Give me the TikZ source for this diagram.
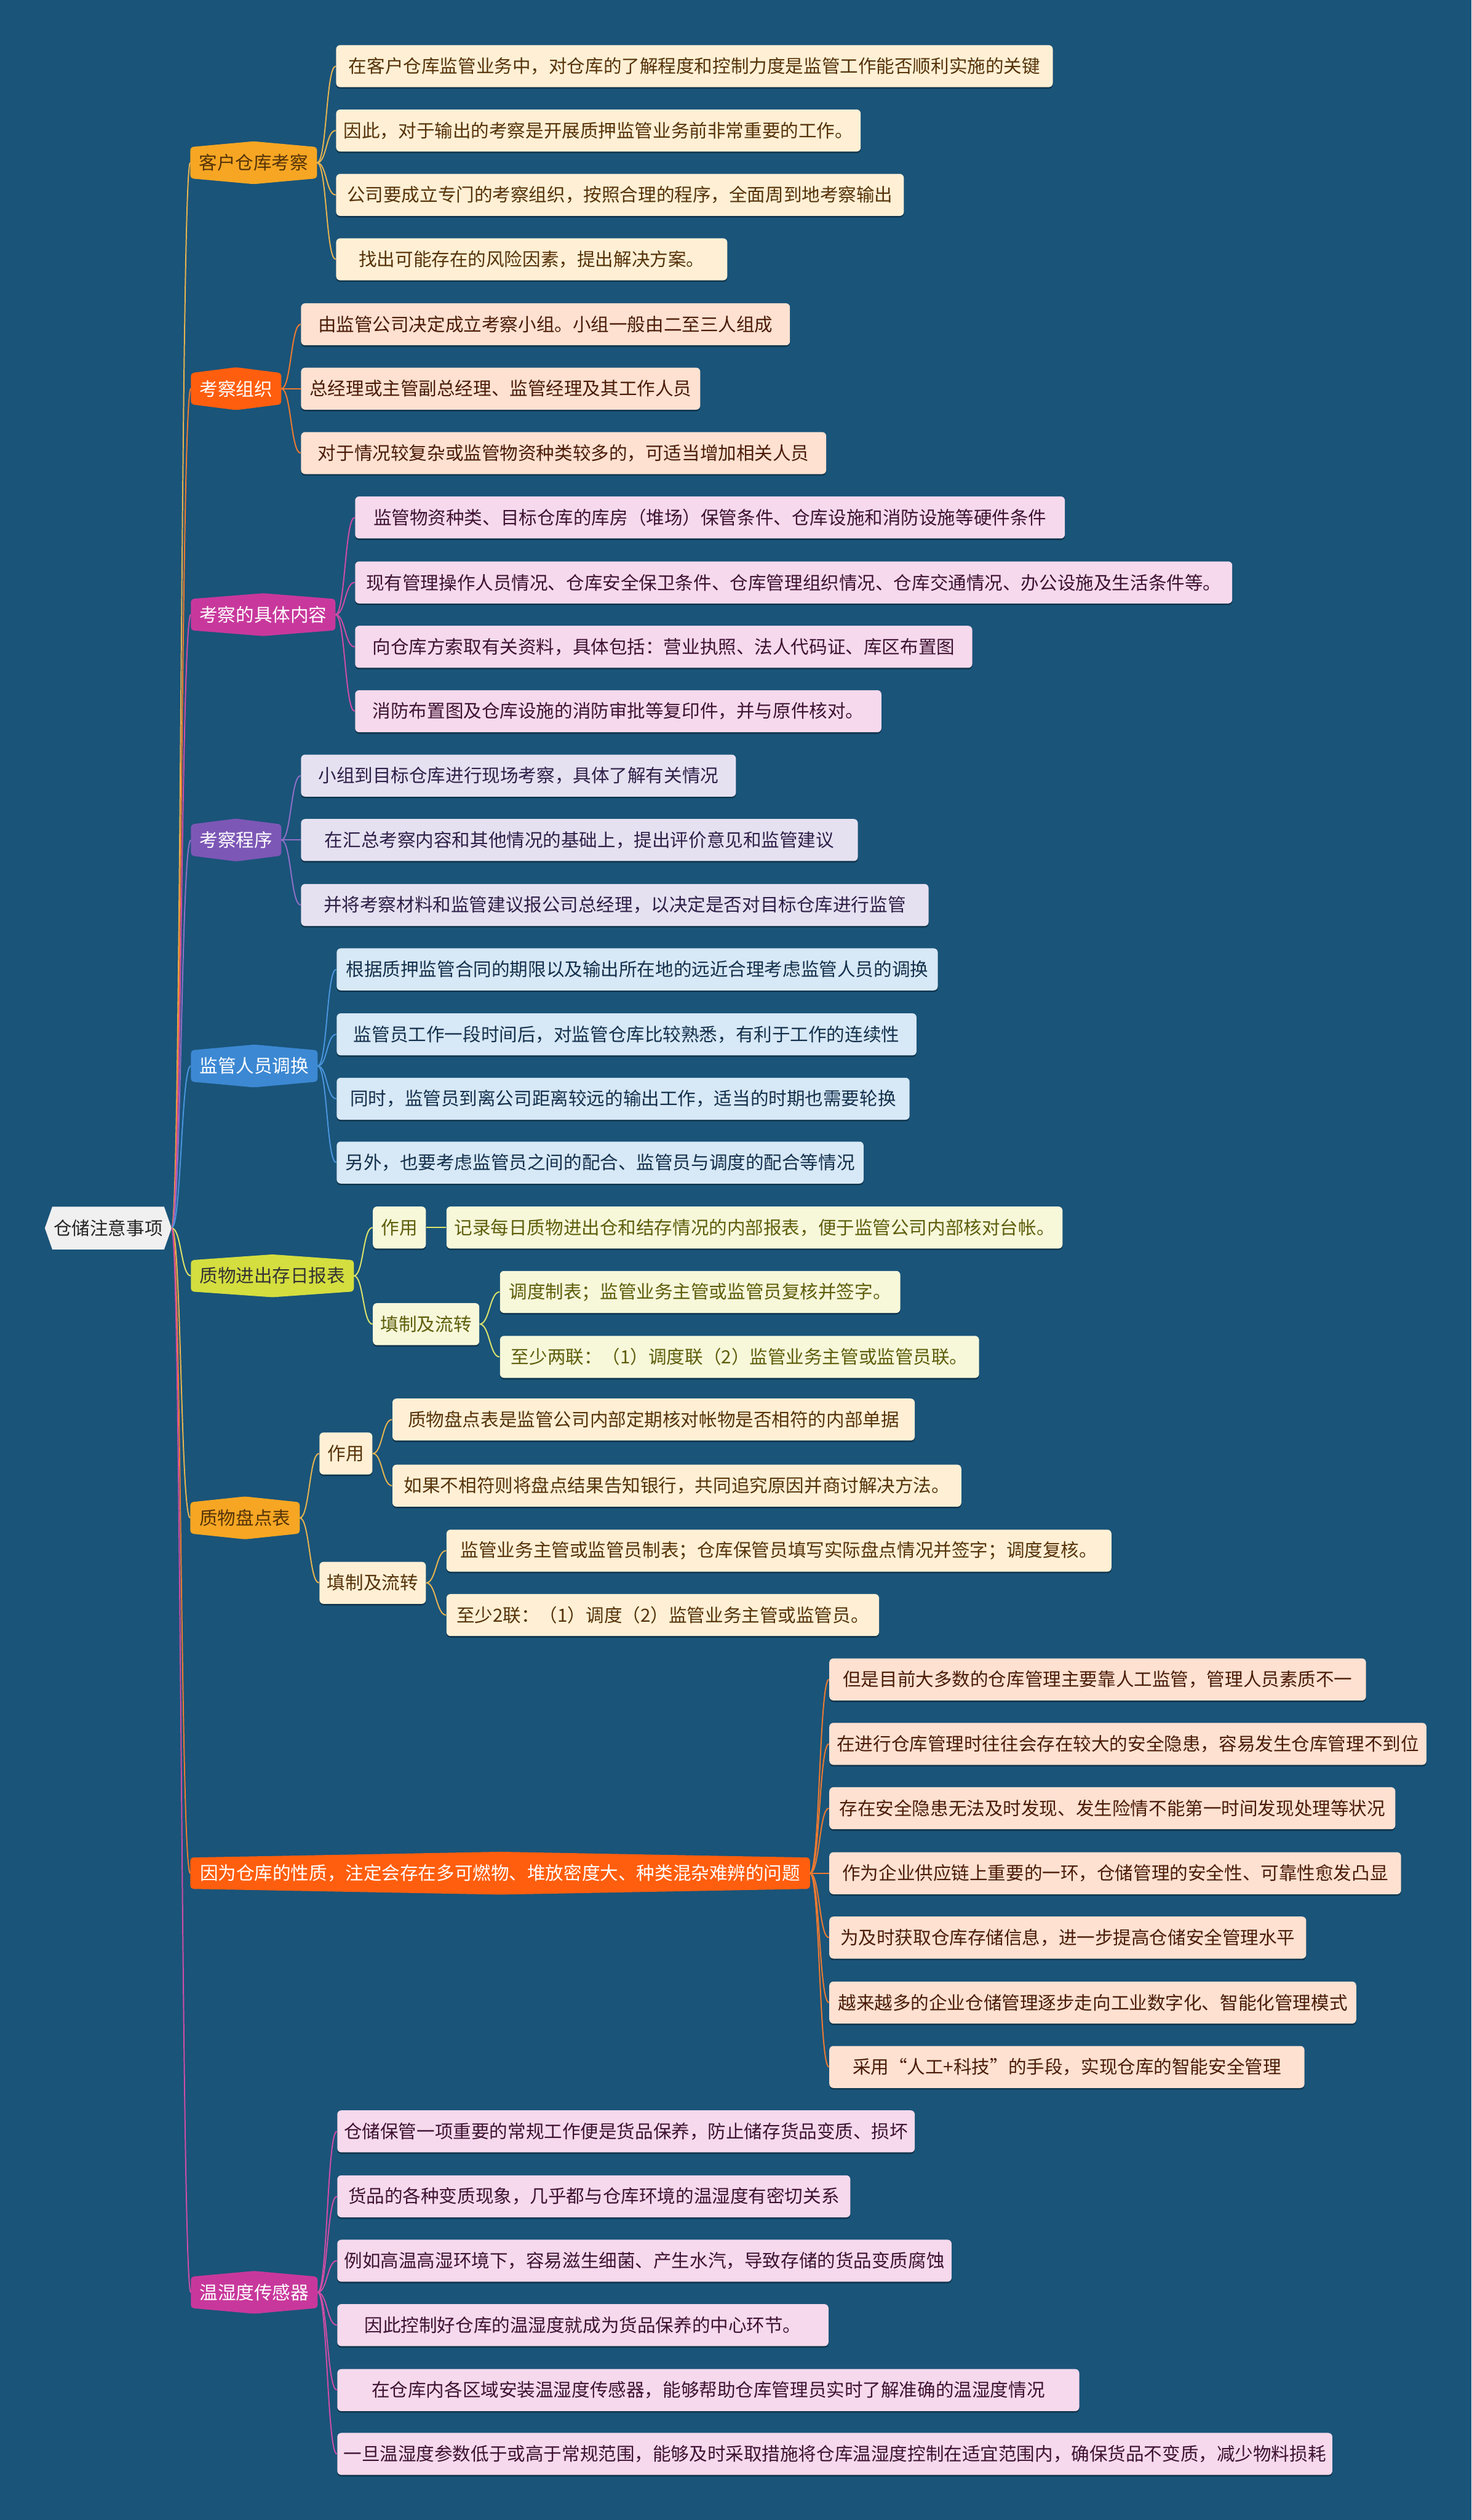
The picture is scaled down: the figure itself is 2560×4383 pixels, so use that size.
\documentclass[tikz,border=0pt]{standalone}
\usepackage{fontspec}
\setmainfont{Noto Sans CJK SC}
\usetikzlibrary{shadows}

\definecolor{canvasbg}{HTML}{1A5479}
\definecolor{rootfill}{HTML}{F0F0F0}
\definecolor{rootink}{HTML}{262626}
\definecolor{amberhex}{HTML}{F6A623}
\definecolor{amberleaf}{HTML}{FFF0D5}
\definecolor{amberink}{HTML}{553309}
\definecolor{amberline}{HTML}{E6B450}
\definecolor{flamehex}{HTML}{FF5E0E}
\definecolor{flameleaf}{HTML}{FFE1D1}
\definecolor{flameink}{HTML}{4A1C08}
\definecolor{flameline}{HTML}{EE7A30}
\definecolor{rosehex}{HTML}{C8389C}
\definecolor{roseleaf}{HTML}{F6D9EC}
\definecolor{roseink}{HTML}{3E1232}
\definecolor{roseline}{HTML}{CF4DA6}
\definecolor{violethex}{HTML}{7D57B6}
\definecolor{violetleaf}{HTML}{E6E1F1}
\definecolor{violetink}{HTML}{2E2048}
\definecolor{violetline}{HTML}{8F6FC8}
\definecolor{azurehex}{HTML}{3C88D3}
\definecolor{azureleaf}{HTML}{D7E8F6}
\definecolor{azureink}{HTML}{13304C}
\definecolor{azureline}{HTML}{4A95DC}
\definecolor{limehex}{HTML}{D4DE3F}
\definecolor{limeleaf}{HTML}{F7F8DA}
\definecolor{limeink}{HTML}{5E5E0C}
\definecolor{limeline}{HTML}{DCE36A}

\pgfdeclarelayer{canvas}
\pgfdeclarelayer{hexes}
\pgfsetlayers{canvas,hexes,main}

\tikzset{
  card/.style={fill=#1, rounded corners=2pt, anchor=west, minimum height=0.73cm,
    inner xsep=0.08cm, inner ysep=0pt,
    drop shadow={shadow xshift=0pt, shadow yshift=-0.8pt, opacity=0.35, fill=black}},
  amcard/.style={card=amberleaf, text=amberink},
  flcard/.style={card=flameleaf, text=flameink},
  rocard/.style={card=roseleaf, text=roseink},
  vicard/.style={card=violetleaf, text=violetink},
  azcard/.style={card=azureleaf, text=azureink},
  licard/.style={card=limeleaf, text=limeink},
  hexnode/.style={anchor=west, minimum height=0.73cm, inner xsep=0.08cm, inner ysep=0pt, text=#1},
  link/.style={draw=#1, line width=0.6pt,
    to path={.. controls +(0.17cm,0) and +(-0.17cm,0) .. (\tikztotarget)}}
}

\begin{document}
\begin{tikzpicture}[x=0.01cm, y=-0.01cm, font=\fontsize{9pt}{11pt}\selectfont]
  \useasboundingbox (0,0) rectangle (2560,4383);
  \begin{pgfonlayer}{canvas}
    \fill[canvasbg] (0,0) rectangle (2560,4383);
  \end{pgfonlayer}

  % Centre
  \node[hexnode=rootink, minimum width=2.19cm] (root) at (78,2136) {仓储注意事项};

  % Hovedgrene
  \node[hexnode=amberink, minimum width=2.19cm] (survey) at (331,283) {客户仓库考察};
  \node[hexnode=white, minimum width=1.56cm] (team) at (332,676) {考察组织};
  \node[hexnode=white, minimum width=2.50cm] (scope) at (332,1069) {考察的具体内容};
  \node[hexnode=white, minimum width=1.56cm] (proc) at (332,1461) {考察程序};
  \node[hexnode=white, minimum width=2.19cm] (rota) at (332,1854) {监管人员调换};
  \node[hexnode=black!80, minimum width=2.82cm] (daily) at (332,2219) {质物进出存日报表};
  \node[hexnode=amberink, minimum width=1.89cm] (stock) at (331,2640) {质物盘点表};
  \node[hexnode=white, minimum width=10.76cm] (hazard) at (331,3258) {因为仓库的性质，注定会存在多可燃物、堆放密度大、种类混杂难辨的问题};
  \node[hexnode=white, minimum width=2.19cm] (sensor) at (332,3987) {温湿度传感器};

  % 客户仓库考察
  \node[amcard, minimum width=12.46cm] (survey1) at (584,115) {在客户仓库监管业务中，对仓库的了解程度和控制力度是监管工作能否顺利实施的关键};
  \node[amcard, minimum width=9.12cm] (survey2) at (584,227) {因此，对于输出的考察是开展质押监管业务前非常重要的工作。};
  \node[amcard, minimum width=9.87cm] (survey3) at (584,339) {公司要成立专门的考察组织，按照合理的程序，全面周到地考察输出};
  \node[amcard, minimum width=6.80cm] (survey4) at (584,451) {找出可能存在的风险因素，提出解决方案。};

  % 考察组织
  \node[flcard, minimum width=8.50cm] (team1) at (523,564) {由监管公司决定成立考察小组。小组一般由二至三人组成};
  \node[flcard, minimum width=6.94cm] (team2) at (523,676) {总经理或主管副总经理、监管经理及其工作人员};
  \node[flcard, minimum width=9.13cm] (team3) at (523,788) {对于情况较复杂或监管物资种类较多的，可适当增加相关人员};

  % 考察的具体内容
  \node[rocard, minimum width=12.34cm] (scope1) at (617,900) {监管物资种类、目标仓库的库房（堆场）保管条件、仓库设施和消防设施等硬件条件};
  \node[rocard, minimum width=15.25cm] (scope2) at (617,1013) {现有管理操作人员情况、仓库安全保卫条件、仓库管理组织情况、仓库交通情况、办公设施及生活条件等。};
  \node[rocard, minimum width=10.73cm] (scope3) at (617,1125) {向仓库方索取有关资料，具体包括：营业执照、法人代码证、库区布置图};
  \node[rocard, minimum width=9.15cm] (scope4) at (617,1237) {消防布置图及仓库设施的消防审批等复印件，并与原件核对。};

  % 考察程序
  \node[vicard, minimum width=7.56cm] (proc1) at (523,1349) {小组到目标仓库进行现场考察，具体了解有关情况};
  \node[vicard, minimum width=9.68cm] (proc2) at (523,1461) {在汇总考察内容和其他情况的基础上，提出评价意见和监管建议};
  \node[vicard, minimum width=10.91cm] (proc3) at (523,1574) {并将考察材料和监管建议报公司总经理，以决定是否对目标仓库进行监管};

  % 监管人员调换
  \node[azcard, minimum width=10.45cm] (rota1) at (585,1686) {根据质押监管合同的期限以及输出所在地的远近合理考虑监管人员的调换};
  \node[azcard, minimum width=10.08cm] (rota2) at (585,1799) {监管员工作一段时间后，对监管仓库比较熟悉，有利于工作的连续性};
  \node[azcard, minimum width=9.96cm] (rota3) at (585,1911) {同时，监管员到离公司距离较远的输出工作，适当的时期也需要轮换};
  \node[azcard, minimum width=9.16cm] (rota4) at (585,2022) {另外，也要考虑监管员之间的配合、监管员与调度的配合等情况};

  % 质物进出存日报表
  \node[licard, minimum width=0.92cm] (dailyuse) at (648,2135) {作用};
  \node[licard, minimum width=10.71cm] (dailyuse1) at (776,2135) {记录每日质物进出仓和结存情况的内部报表，便于监管公司内部核对台帐。};
  \node[licard, minimum width=1.85cm] (dailyflow) at (648,2303) {填制及流转};
  \node[licard, minimum width=6.96cm] (dailyflow1) at (869,2247) {调度制表；监管业务主管或监管员复核并签字。};
  \node[licard, minimum width=8.33cm] (dailyflow2) at (869,2360) {至少两联：（1）调度联（2）监管业务主管或监管员联。};

  % 质物盘点表
  \node[amcard, minimum width=0.92cm] (stockuse) at (555,2528) {作用};
  \node[amcard, minimum width=9.08cm] (stockuse1) at (682,2469) {质物盘点表是监管公司内部定期核对帐物是否相符的内部单据};
  \node[amcard, minimum width=9.89cm] (stockuse2) at (682,2584) {如果不相符则将盘点结果告知银行，共同追究原因并商讨解决方法。};
  \node[amcard, minimum width=1.85cm] (stockflow) at (555,2753) {填制及流转};
  \node[amcard, minimum width=11.56cm] (stockflow1) at (776,2697) {监管业务主管或监管员制表；仓库保管员填写实际盘点情况并签字；调度复核。};
  \node[amcard, minimum width=7.52cm] (stockflow2) at (776,2809) {至少2联：（1）调度（2）监管业务主管或监管员。};

  % 仓库的性质
  \node[flcard, minimum width=9.33cm] (hazard1) at (1442,2921) {但是目前大多数的仓库管理主要靠人工监管，管理人员素质不一};
  \node[flcard, minimum width=10.38cm] (hazard2) at (1442,3033) {在进行仓库管理时往往会存在较大的安全隐患，容易发生仓库管理不到位};
  \node[flcard, minimum width=9.84cm] (hazard3) at (1442,3145) {存在安全隐患无法及时发现、发生险情不能第一时间发现处理等状况};
  \node[flcard, minimum width=9.94cm] (hazard4) at (1442,3258) {作为企业供应链上重要的一环，仓储管理的安全性、可靠性愈发凸显};
  \node[flcard, minimum width=8.29cm] (hazard5) at (1442,3370) {为及时获取仓库存储信息，进一步提高仓储安全管理水平};
  \node[flcard, minimum width=9.16cm] (hazard6) at (1442,3483) {越来越多的企业仓储管理逐步走向工业数字化、智能化管理模式};
  \node[flcard, minimum width=8.26cm] (hazard7) at (1442,3595) {采用“人工+科技”的手段，实现仓库的智能安全管理};

  % 温湿度传感器
  \node[rocard, minimum width=10.04cm] (sensor1) at (586,3707) {仓储保管一项重要的常规工作便是货品保养，防止储存货品变质、损坏};
  \node[rocard, minimum width=8.92cm] (sensor2) at (586,3820) {货品的各种变质现象，几乎都与仓库环境的温湿度有密切关系};
  \node[rocard, minimum width=10.68cm] (sensor3) at (586,3932) {例如高温高湿环境下，容易滋生细菌、产生水汽，导致存储的货品变质腐蚀};
  \node[rocard, minimum width=8.54cm] (sensor4) at (586,4044) {因此控制好仓库的温湿度就成为货品保养的中心环节。};
  \node[rocard, minimum width=12.90cm] (sensor5) at (586,4157) {在仓库内各区域安装温湿度传感器，能够帮助仓库管理员实时了解准确的温湿度情况};
  \node[rocard, minimum width=17.30cm] (sensor6) at (586,4268) {一旦温湿度参数低于或高于常规范围，能够及时采取措施将仓库温湿度控制在适宜范围内，确保货品不变质，减少物料损耗};

  % Sekskanter bag teksten
  \begin{pgfonlayer}{hexes}
    \foreach \n/\c in {survey/amberhex, team/flamehex, scope/rosehex, proc/violethex, rota/azurehex,
                       daily/limehex, stock/amberhex, hazard/flamehex, sensor/rosehex}
      \fill[\c, rounded corners=1.5pt] ([yshift=-0.1cm]\n.north west) -- (\n.north) -- ([yshift=-0.1cm]\n.north east)
        -- ([yshift=0.1cm]\n.south east) -- (\n.south) -- ([yshift=0.1cm]\n.south west) -- cycle;
    \fill[rootfill] (root.west) -- ([xshift=0.13cm]root.north west) -- ([xshift=-0.13cm]root.north east)
      -- (root.east) -- ([xshift=-0.13cm]root.south east) -- ([xshift=0.13cm]root.south west) -- cycle;
  \end{pgfonlayer}

  % Forbindelser
  \foreach \n/\c in {survey/amberline, team/flameline, scope/roseline, proc/violetline, rota/azureline,
                     daily/limeline, stock/amberline, hazard/flameline, sensor/roseline}
    \draw[link=\c] (root.east) to (\n.west);
  \foreach \i in {1,...,4} \draw[link=amberline] (survey.east) to (survey\i.west);
  \foreach \i in {1,...,3} \draw[link=flameline] (team.east) to (team\i.west);
  \foreach \i in {1,...,4} \draw[link=roseline] (scope.east) to (scope\i.west);
  \foreach \i in {1,...,3} \draw[link=violetline] (proc.east) to (proc\i.west);
  \foreach \i in {1,...,4} \draw[link=azureline] (rota.east) to (rota\i.west);
  \draw[link=limeline] (daily.east) to (dailyuse.west);
  \draw[link=limeline] (daily.east) to (dailyflow.west);
  \draw[link=limeline] (dailyuse.east) to (dailyuse1.west);
  \foreach \i in {1,2} \draw[link=limeline] (dailyflow.east) to (dailyflow\i.west);
  \draw[link=amberline] (stock.east) to (stockuse.west);
  \draw[link=amberline] (stock.east) to (stockflow.west);
  \foreach \i in {1,2} \draw[link=amberline] (stockuse.east) to (stockuse\i.west);
  \foreach \i in {1,2} \draw[link=amberline] (stockflow.east) to (stockflow\i.west);
  \foreach \i in {1,...,7} \draw[link=flameline] (hazard.east) to (hazard\i.west);
  \foreach \i in {1,...,6} \draw[link=roseline] (sensor.east) to (sensor\i.west);
\end{tikzpicture}
\end{document}
